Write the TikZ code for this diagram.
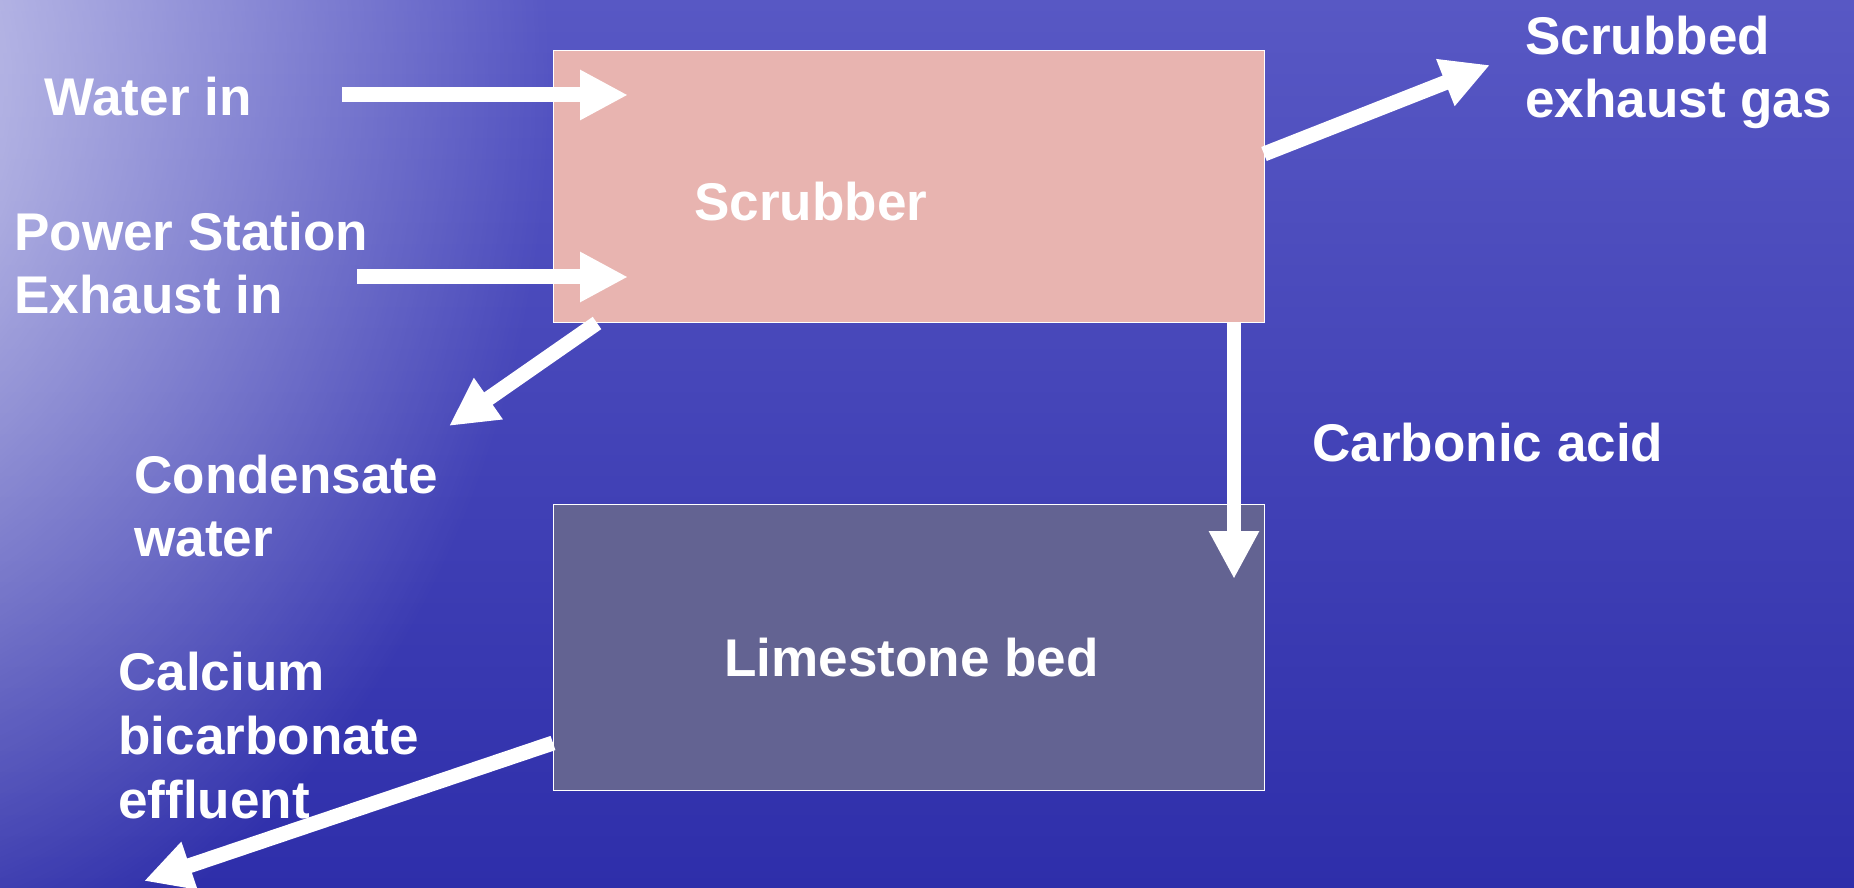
\documentclass[tikz,border=0pt]{standalone}
\usepackage{fontspec}
\setmainfont{Liberation Sans}
\usetikzlibrary{arrows.meta,fadings}

\definecolor{seablue}{RGB}{46,46,170}
\definecolor{seatop}{RGB}{88,88,196}
\definecolor{scrubpink}{RGB}{232,180,176}
\definecolor{limegrey}{RGB}{99,99,146}

\tikzfading[name=glowfade, inner color=transparent!25, outer color=transparent!100]

\begin{document}
\begin{tikzpicture}[x=0.02cm, y=-0.02cm,
		label/.style={text=white, font=\fontsize{30.2pt}{36.4pt}\selectfont\bfseries, inner sep=0pt, align=left, anchor=base west},
		unit/.style={draw=white, line width=0.8pt, inner sep=0pt, anchor=north west, minimum width=14.22cm},
		flow/.style={white, line width=0.3cm, -{Triangle[length=0.96cm, width=0.94cm]}}]
		\useasboundingbox (0, 0) rectangle (1854, 888);
		\shade[top color=seatop, bottom color=seablue] (0, 0) rectangle (1854, 888);
		\fill[white, path fading=glowfade] (-200, 80) ellipse [x radius=750, y radius=950];
		
		\node[unit, fill=scrubpink, minimum height=5.44cm] (scrub) at (553, 50) {};
		\node[unit, fill=limegrey, minimum height=5.72cm] (lime) at (553, 504) {};
		
		% labels sit on the baseline of their last line
		\node[label] (scrubtxt) at (694, 221) {Scrubber};
		\node[label] (limetxt) at (724, 676) {Limestone bed};
		
		\node[label] (water) at (44, 116) {Water in};
		\node[label] (exhaust) at (14, 314) {Power Station\\Exhaust in};
		\node[label] (gas) at (1525, 118) {Scrubbed\\exhaust gas};
		\node[label] (acid) at (1312, 462) {Carbonic acid};
		\node[label] (cond) at (134, 557) {Condensate\\water};
		\node[label] (effl) at (118, 818) {Calcium\\bicarbonate\\effluent};
		
		\coordinate (waterfrom) at (342, 95);
		\coordinate (waterto) at (628, 95);
		\coordinate (exhfrom) at (357, 277);
		\coordinate (exhto) at (628, 277);
		\coordinate (gasfrom) at (1264, 154);
		\coordinate (gasto) at (1490, 65);
		\coordinate (condfrom) at (597, 323);
		\coordinate (condto) at (449, 426);
		\coordinate (acidfrom) at (1234, 322);
		\coordinate (acidto) at (1234, 579);
		\coordinate (efflfrom) at (553, 743);
		\coordinate (efflto) at (144, 881);
		
		\draw[flow] (waterfrom) -- (waterto);
		\draw[flow] (exhfrom) -- (exhto);
		\draw[flow] (gasfrom) -- (gasto);
		\draw[flow] (condfrom) -- (condto);
		\draw[flow, line width=0.28cm] (acidfrom) -- (acidto);
		\draw[flow] (efflfrom) -- (efflto);
	\end{tikzpicture}
\end{document}
